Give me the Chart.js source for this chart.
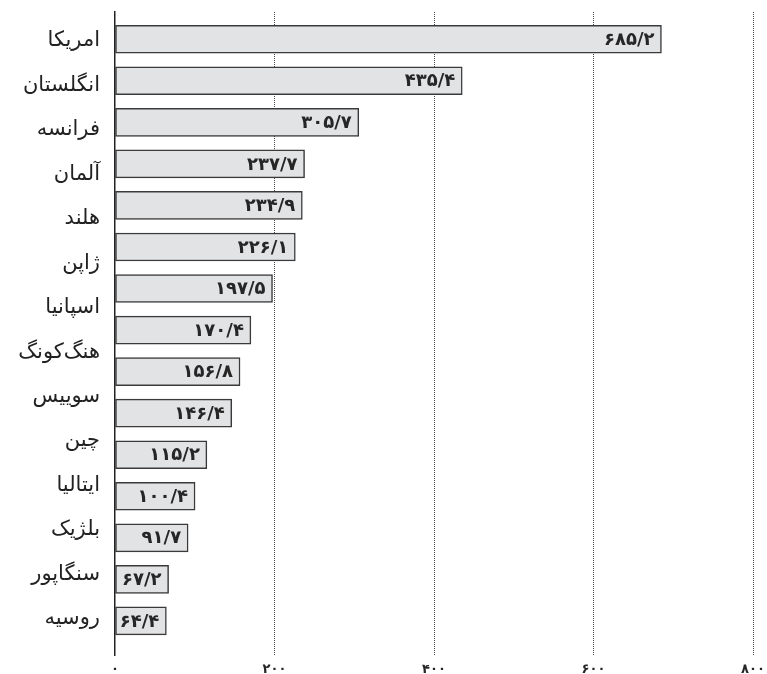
<!DOCTYPE html>
<html>
<head>
<meta charset="utf-8">
<script src="https://cdn.jsdelivr.net/npm/chart.js@4/dist/chart.umd.min.js"></script>
<style>
  html, body { margin: 0; padding: 0; background: #ffffff; }
</style>
</head>
<body>
<canvas id="c" width="767" height="674"></canvas>
<script>
// Data (the reference shows 14 country labels next to 15 bars)
const categories = ["امریکا", "انگلستان", "فرانسه", "آلمان", "هلند", "ژاپن", "اسپانیا", "هنگ‌کونگ", "سوییس", "چین", "ایتالیا", "بلژیک", "سنگاپور", "روسیه"];
const values = [685.2, 435.4, 305.7, 237.7, 234.9, 226.1, 197.5, 170.4, 156.8, 146.4, 115.2, 100.4, 91.7, 67.2, 64.4];
const xTicks = [0, 200, 400, 600, 800];

const faDigits = "۰۱۲۳۴۵۶۷۸۹";
function toFa(s) {
  return String(s).replace(/[0-9]/g, d => faDigits[+d]).replace(".", "/");
}

const FONT = "'DejaVu Sans', sans-serif";

const BAR_RANGE = [-0.655, 14.82];
const LAB_RANGE = [-0.135, 13.30];

const valueLabels = {
  id: "valueLabels",
  afterDatasetsDraw(chart) {
    const ctx = chart.ctx;
    const meta = chart.getDatasetMeta(0);
    ctx.save();
    ctx.font = "bold 18px " + FONT;
    ctx.fillStyle = "#262626";
    ctx.textAlign = "right";
    ctx.textBaseline = "middle";
    meta.data.forEach((bar, i) => {
      ctx.fillText(toFa(values[i].toFixed(1)), bar.x - 7, bar.y + 1);
    });
    ctx.restore();
  }
};

new Chart(document.getElementById("c"), {
  type: "bar",
  data: {
    datasets: [{
      data: values.map((v, i) => ({ x: v, y: i })),
      xAxisID: "x",
      yAxisID: "yBar",
      backgroundColor: "#e2e3e5",
      borderColor: "#3a3a3a",
      borderWidth: 1.5,
      borderSkipped: false,
      barThickness: 28
    }]
  },
  options: {
    indexAxis: "y",
    responsive: false,
    animation: false,
    devicePixelRatio: 1,
    layout: { padding: { top: 12, right: 14, bottom: 0, left: 0 } },
    plugins: {
      legend: { display: false },
      tooltip: { enabled: false }
    },
    scales: {
      x: {
        type: "linear",
        position: "bottom",
        min: 0,
        max: 800,
        afterBuildTicks: (s) => { s.ticks = xTicks.map(v => ({ value: v })); s.min = 0; s.max = 800; },
        afterFit: (s) => { s.height = 19; s.paddingLeft = 0; s.paddingRight = 0; },
        grid: {
          drawTicks: false,
          color: (c) => (c.tick && c.tick.value === 0) ? "rgba(0,0,0,0)" : "#4a4a4a",
          lineWidth: 1
        },
        border: { display: false, dash: [1, 1] },
        ticks: {
          padding: 7,
          color: "#262626",
          font: { family: FONT, size: 13, weight: "bold" },
          callback: (v) => toFa(v)
        }
      },
      yBar: {
        type: "linear",
        position: "left",
        reverse: true,
        offset: false,
        weight: 0,
        min: BAR_RANGE[0],
        max: BAR_RANGE[1],
        afterBuildTicks: (s) => { s.ticks = [{ value: 0 }]; s.min = BAR_RANGE[0]; s.max = BAR_RANGE[1]; },
        afterFit: (s) => { s.width = 0; s.paddingTop = 0; s.paddingBottom = 0; },
        grid: { display: false, drawTicks: false, offset: false },
        border: { display: true, color: "#222222", width: 1.5 },
        ticks: { display: false }
      },
      yLab: {
        type: "linear",
        position: "left",
        reverse: true,
        weight: 1,
        min: LAB_RANGE[0],
        max: LAB_RANGE[1],
        afterBuildTicks: (s) => { s.ticks = categories.map((c, i) => ({ value: i })); s.min = LAB_RANGE[0]; s.max = LAB_RANGE[1]; },
        afterFit: (s) => { s.width = 115; s.paddingTop = 0; s.paddingBottom = 0; },
        grid: { display: false, drawTicks: false },
        border: { display: false },
        ticks: {
          autoSkip: false,
          padding: 15,
          color: "#222222",
          font: { family: FONT, size: 21 },
          callback: (v) => categories[v]
        }
      }
    }
  },
  plugins: [valueLabels]
});
</script>
</body>
</html>
